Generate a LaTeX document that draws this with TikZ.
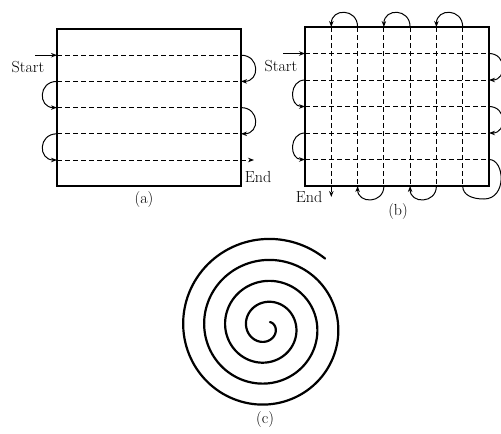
\documentclass[tikz,border=0pt]{standalone}
\usetikzlibrary{arrows.meta}
\begin{document}
\begin{tikzpicture}[x=1pt,y=-1pt,
  frame/.style={line width=1.3pt},
  scanline/.style={line width=1pt, dash pattern=on 5pt off 3pt},
  turn/.style={line width=1pt},
  tip/.style={-{Stealth[length=6pt,width=4.5pt]}},
  lbl/.style={font=\fontsize{16}{19}\selectfont, inner sep=0pt},
  spiralline/.style={line width=2.2pt, line cap=round}]
\useasboundingbox (0,0) rectangle (501,434);

% ---------- (a) ----------
\coordinate (aTL) at (57,29);
\coordinate (aBR) at (241,186);
\draw[frame] (aTL) rectangle (aBR);
\foreach \i/\y in {1/55.2,2/81.4,3/107.6,4/133.8,5/160} {
  \coordinate (aL\i) at (57,\y);
  \coordinate (aR\i) at (241,\y);
}
\foreach \i in {1,...,4} \draw[scanline] (aL\i) -- (aR\i);
\coordinate (aEnd) at (254,160);
\draw[scanline,tip] (aL5) -- (aEnd);
\coordinate (aS) at (35,55.2);
\draw[turn,tip] (aS) -- (aL1);
\draw[turn,tip] (aR1) .. controls (260,55.2) and (260,81.4) .. (aR2);
\draw[turn,tip] (aL2) .. controls (38,81.4) and (38,107.6) .. (aL3);
\draw[turn,tip] (aR3) .. controls (260,107.6) and (260,133.8) .. (aR4);
\draw[turn,tip] (aL4) .. controls (38,133.8) and (38,160) .. (aL5);
\node[lbl] (aStart) at (28,67) {Start};
\node[lbl] (aEndT) at (258,177) {End};
\node[lbl] (acap) at (144,200) {(a)};

% ---------- (b) ----------
\coordinate (bTL) at (305,27);
\coordinate (bBR) at (489,186);
\draw[frame] (bTL) rectangle (bBR);
\foreach \i/\y in {1/53.5,2/80,3/106.5,4/133,5/159.5} {
  \coordinate (bL\i) at (305,\y);
  \coordinate (bR\i) at (489,\y);
}
\foreach \i/\x in {1/331.3,2/357.6,3/383.9,4/410.1,5/436.4,6/462.7} {
  \coordinate (bT\i) at (\x,27);
  \coordinate (bB\i) at (\x,186);
}
\foreach \i in {1,...,5} \draw[scanline] (bL\i) -- (bR\i);
\foreach \i in {2,...,6} \draw[scanline] (bT\i) -- (bB\i);
\coordinate (bEnd) at (331.3,197);
\draw[scanline,tip] (bT1) -- (bEnd);
\coordinate (bS) at (283,53.5);
\draw[turn,tip] (bS) -- (bL1);
% side loops
\draw[turn,tip] (bR1) .. controls (507,53.5) and (507,80) .. (bR2);
\draw[turn,tip] (bL2) .. controls (289,80) and (289,106.5) .. (bL3);
\draw[turn,tip] (bR3) .. controls (507,106.5) and (507,133) .. (bR4);
\draw[turn,tip] (bL4) .. controls (289,133) and (289,159.5) .. (bL5);
% corner loop
\draw[turn] (bR5) .. controls (505,159.5) and (507,199) .. (484,199)
  .. controls (472,199) and (462.7,195) .. (bB6);
% top loops
\draw[turn,tip] (bT6) .. controls (462.7,8) and (436.4,8) .. (bT5);
\draw[turn,tip] (bT4) .. controls (410.1,8) and (383.9,8) .. (bT3);
\draw[turn,tip] (bT2) .. controls (357.6,8) and (331.3,8) .. (bT1);
% bottom loops
\draw[turn,tip] (bB5) .. controls (436.4,204) and (410.1,204) .. (bB4);
\draw[turn,tip] (bB3) .. controls (383.9,204) and (357.6,204) .. (bB2);
\node[lbl] (bStart) at (281,66) {Start};
\node[lbl] (bEndT) at (309,197) {End};
\node[lbl] (bcap) at (398,212) {(b)};

% ---------- (c) ----------
\draw[spiralline] plot[domain=0.3:4.31, samples=500, smooth, variable=\t]
  ({266+21*\t*cos(159-360*\t)}, {327-21*\t*sin(159-360*\t)});
\node[lbl] (ccap) at (265,420) {(c)};
\end{tikzpicture}
\end{document}
